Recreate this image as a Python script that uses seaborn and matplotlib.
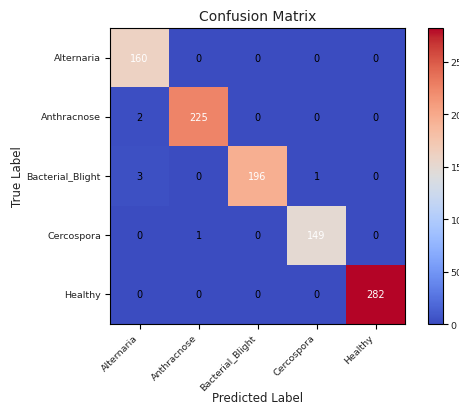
import numpy as np
import matplotlib
matplotlib.use("Agg")
import matplotlib.pyplot as plt
import seaborn as sns

classes = ["Alternaria", "Anthracnose", "Bacterial_Blight", "Cercospora", "Healthy"]
row_alternaria = [160, 0, 0, 0, 0]
row_anthracnose = [2, 225, 0, 0, 0]
row_bacterial = [3, 0, 196, 1, 0]
row_cercospora = [0, 1, 0, 149, 0]
row_healthy = [0, 0, 0, 0, 282]
cbar_ticks = [0, 50, 100, 150, 200, 250]

cm = np.array([row_alternaria, row_anthracnose, row_bacterial, row_cercospora, row_healthy])

fig = plt.figure(figsize=(4.59, 4.06), dpi=100)
ax = fig.add_axes([0.2397, 0.1995, 0.6427, 0.729])
cax = fig.add_axes([0.9325, 0.1995, 0.0327, 0.729])

sns.heatmap(cm, cmap="coolwarm", vmin=0, vmax=cm.max(), ax=ax, cbar_ax=cax,
            annot=False, square=False, linewidths=0,
            xticklabels=classes, yticklabels=classes,
            cbar_kws={"ticks": cbar_ticks})

thresh = cm.max() / 2.0
for i in range(cm.shape[0]):
    for j in range(cm.shape[1]):
        ax.text(j + 0.5, i + 0.5, str(cm[i, j]), ha="center", va="center",
                fontsize=7, color="white" if cm[i, j] > thresh else "black")

for s in ax.spines.values():
    s.set_visible(True)
    s.set_linewidth(0.8)
    s.set_color("black")
ax.tick_params(axis="both", which="both", length=3.5, width=0.8, labelsize=6.8,
               colors="black", labelcolor="#222222", pad=3)
plt.setp(ax.get_xticklabels(), rotation=45, ha="right")
plt.setp(ax.get_yticklabels(), rotation=0)
ax.set_title("Confusion Matrix", fontsize=10, color="#222222")
ax.set_xlabel("Predicted Label", fontsize=8.5, color="#222222", labelpad=-1)
ax.set_ylabel("True Label", fontsize=8.5, color="#222222", labelpad=2)

cax.tick_params(labelsize=6.8, length=3.5, width=0.8, labelcolor="#222222", pad=2)
cb = ax.collections[0].colorbar
cb.outline.set_visible(True)
cb.outline.set_linewidth(0.8)

fig.savefig("out.png", dpi=100)
